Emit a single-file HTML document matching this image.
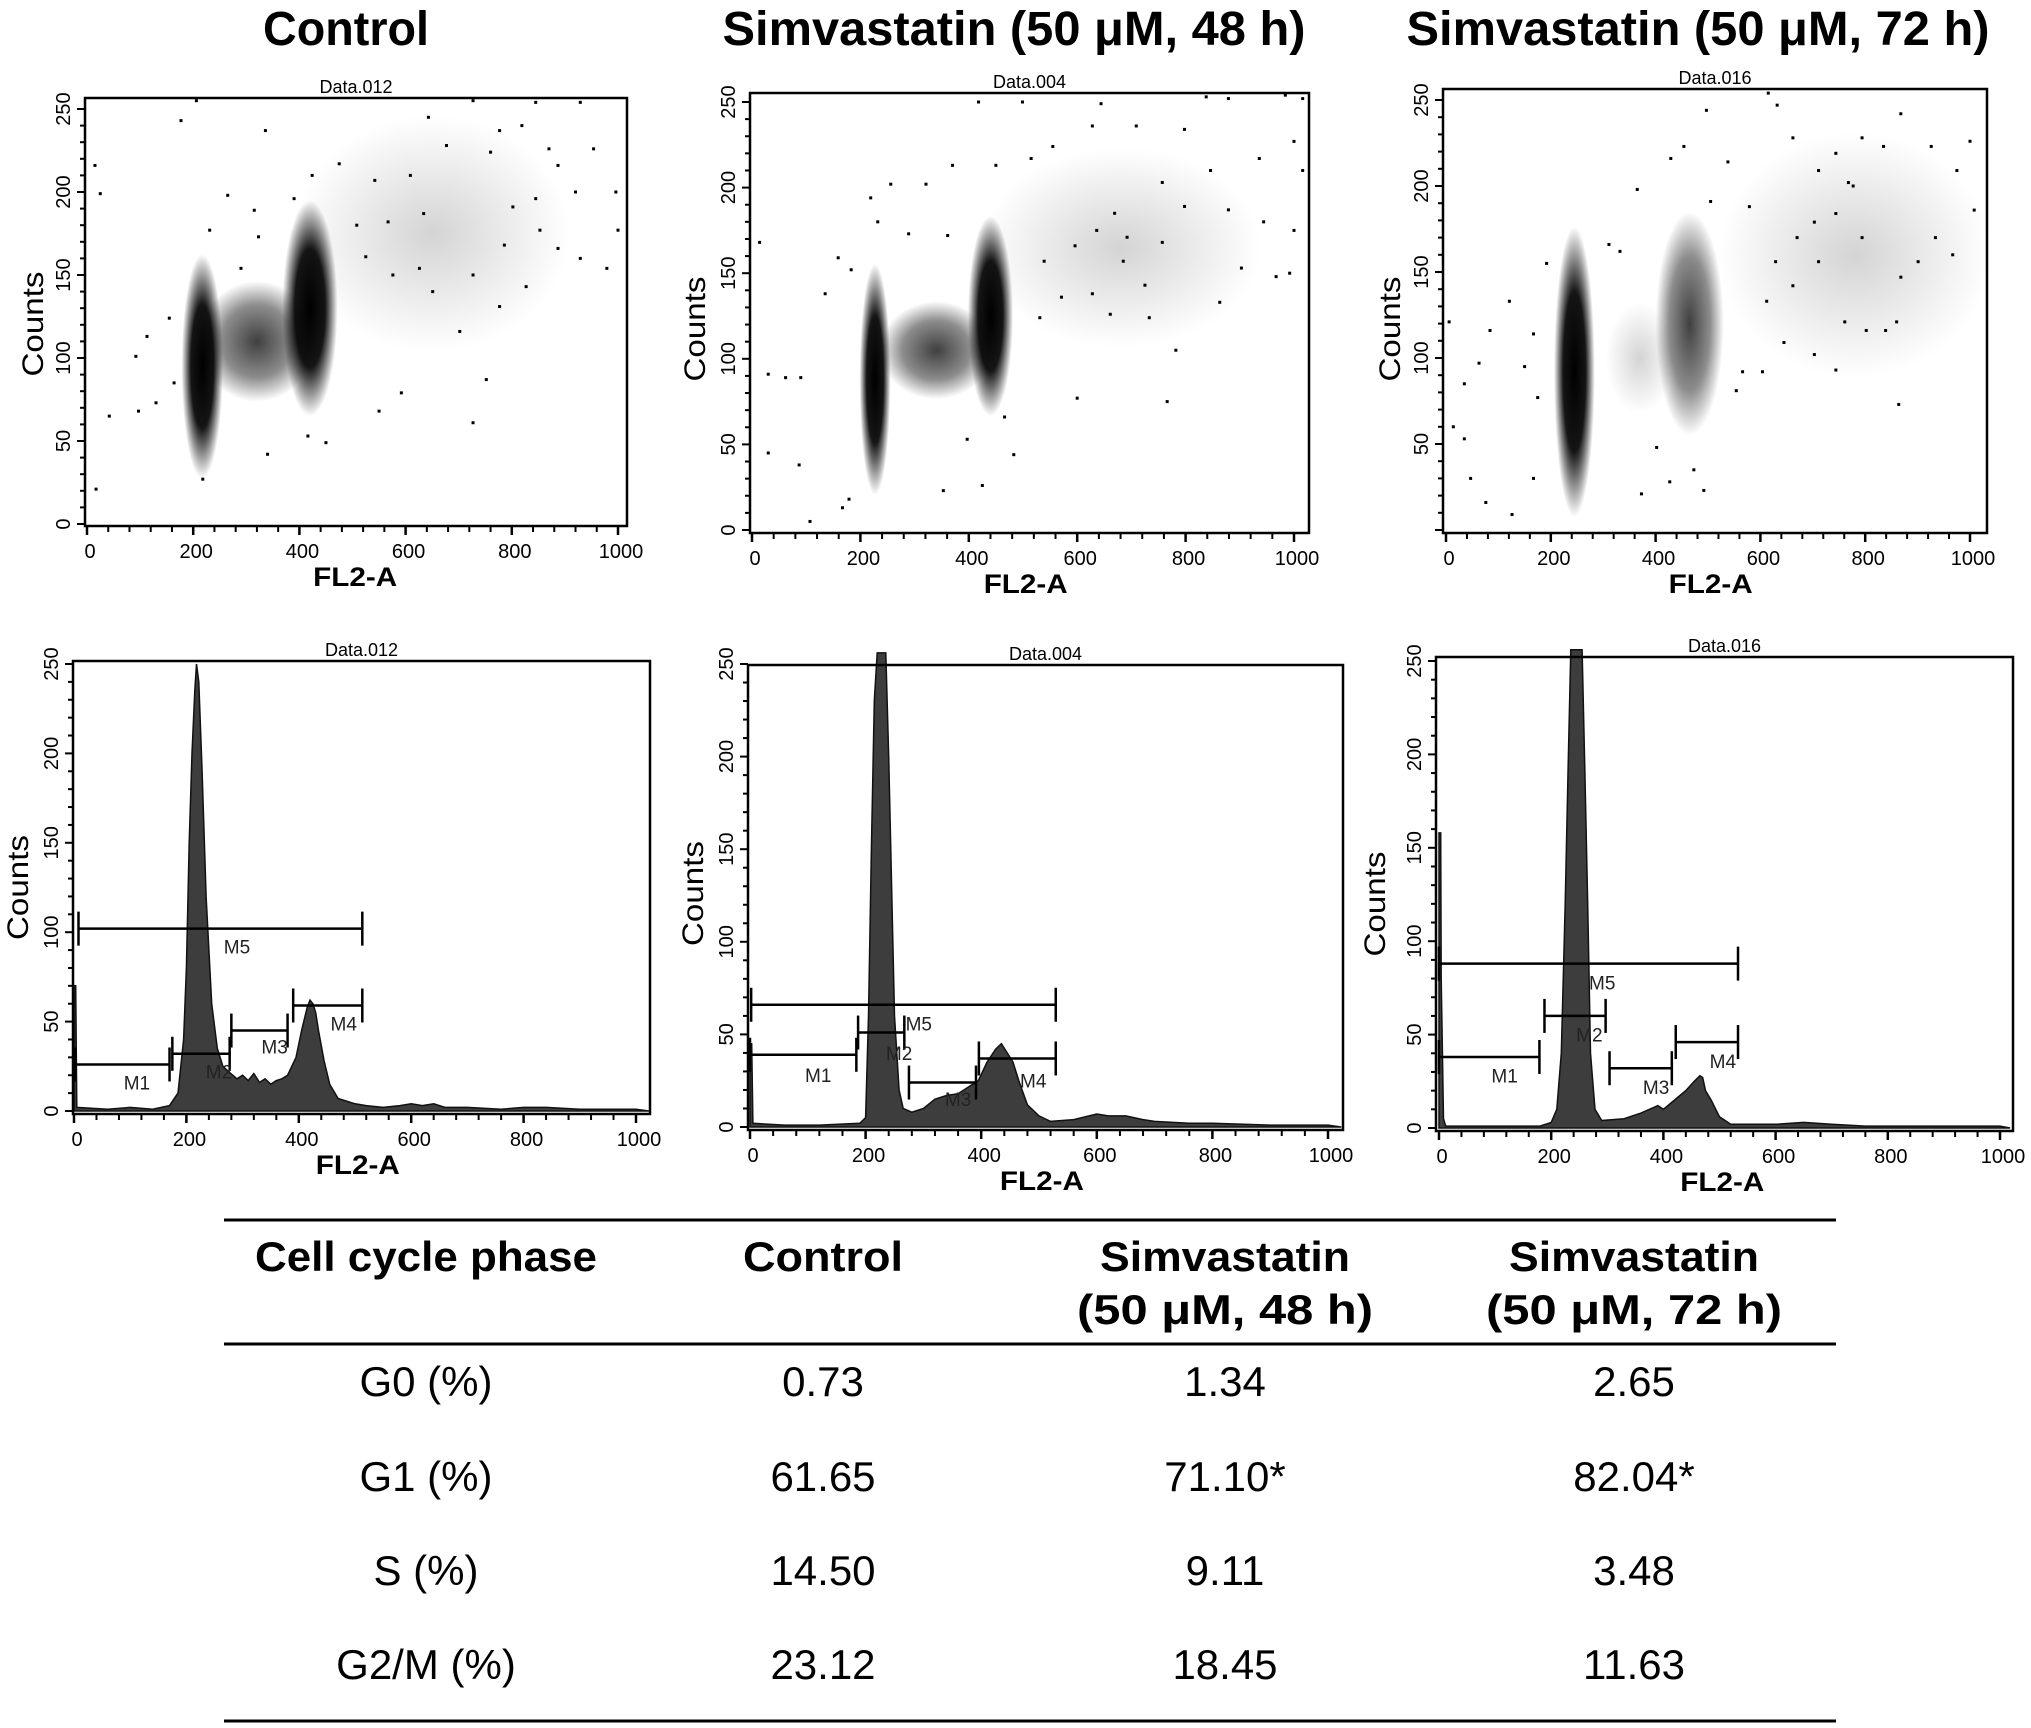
<!DOCTYPE html>
<html><head><meta charset="utf-8">
<style>
html,body{margin:0;padding:0;background:#fff;}
svg{display:block;font-family:"Liberation Sans",Arial,sans-serif;}
</style></head>
<body>
<svg id="fig" xmlns="http://www.w3.org/2000/svg" width="2031" height="1728" viewBox="0 0 2031 1728">
<defs>
<radialGradient id="gDense"><stop offset="0" stop-color="#000" stop-opacity="1"/><stop offset="0.55" stop-color="#000" stop-opacity="0.92"/><stop offset="1" stop-color="#000" stop-opacity="0"/></radialGradient>
<radialGradient id="gMedium"><stop offset="0" stop-color="#000" stop-opacity="0.75"/><stop offset="0.6" stop-color="#000" stop-opacity="0.45"/><stop offset="1" stop-color="#000" stop-opacity="0"/></radialGradient>
<radialGradient id="gLight"><stop offset="0" stop-color="#000" stop-opacity="0.17"/><stop offset="1" stop-color="#000" stop-opacity="0"/></radialGradient>
</defs>
<g font-weight="bold" font-size="48" text-anchor="middle">
<text x="346" y="45" textLength="166" lengthAdjust="spacingAndGlyphs">Control</text>
<text x="1014" y="45" textLength="583" lengthAdjust="spacingAndGlyphs">Simvastatin (50 μM, 48 h)</text>
<text x="1698" y="45" textLength="583" lengthAdjust="spacingAndGlyphs">Simvastatin (50 μM, 72 h)</text>
</g>
<g id="charts"></g>
<g>
<line x1="224" y1="1220" x2="1836" y2="1220" stroke="#000" stroke-width="3"/>
<line x1="224" y1="1344" x2="1836" y2="1344" stroke="#000" stroke-width="3"/>
<line x1="224" y1="1721" x2="1836" y2="1721" stroke="#000" stroke-width="3"/>
<g font-weight="bold" font-size="42" text-anchor="middle">
<text x="426" y="1271" textLength="342" lengthAdjust="spacingAndGlyphs">Cell cycle phase</text>
<text x="823" y="1271" textLength="160" lengthAdjust="spacingAndGlyphs">Control</text>
<text x="1225" y="1271" textLength="250" lengthAdjust="spacingAndGlyphs">Simvastatin</text>
<text x="1225" y="1324" textLength="296" lengthAdjust="spacingAndGlyphs">(50 μM, 48 h)</text>
<text x="1634" y="1271" textLength="250" lengthAdjust="spacingAndGlyphs">Simvastatin</text>
<text x="1634" y="1324" textLength="296" lengthAdjust="spacingAndGlyphs">(50 μM, 72 h)</text>
</g>
<g font-size="42" text-anchor="middle">
<text x="426" y="1396">G0 (%)</text>
<text x="823" y="1396">0.73</text>
<text x="1225" y="1396">1.34</text>
<text x="1634" y="1396">2.65</text>
<text x="426" y="1491">G1 (%)</text>
<text x="823" y="1491">61.65</text>
<text x="1225" y="1491">71.10*</text>
<text x="1634" y="1491">82.04*</text>
<text x="426" y="1585">S (%)</text>
<text x="823" y="1585">14.50</text>
<text x="1225" y="1585">9.11</text>
<text x="1634" y="1585">3.48</text>
<text x="426" y="1679">G2/M (%)</text>
<text x="823" y="1679">23.12</text>
<text x="1225" y="1679">18.45</text>
<text x="1634" y="1679">11.63</text>
</g>
</g>
</svg>
<script>
// ---------- data ----------
const xTickLabels = [0, 200, 400, 600, 800, 1000];
const yTickLabels = [0, 50, 100, 150, 200, 250];
const sampleNames = ["Data.012", "Data.004", "Data.016"];

// scatter clusters (data units): centre x, centre y, half-width, half-height, density
const s1ClusterX = [650, 320, 217, 420];
const s1ClusterY = [175, 110, 95, 130];
const s1ClusterRX = [200, 85, 30, 40];
const s1ClusterRY = [55, 28, 52, 50];
const s1ClusterD = ["light", "medium", "dense", "dense"];
const s2ClusterX = [680, 340, 227, 440];
const s2ClusterY = [165, 105, 88, 125];
const s2ClusterRX = [200, 80, 22, 32];
const s2ClusterRY = [45, 22, 52, 45];
const s2ClusterD = ["light", "medium", "dense", "dense"];
const s3ClusterX = [780, 370, 465, 245];
const s3ClusterY = [160, 100, 120, 92];
const s3ClusterRX = [200, 50, 50, 30];
const s3ClusterRY = [55, 25, 50, 65];
const s3ClusterD = ["light", "light", "medium", "dense"];

// sparse scatter events
const s1PointX = [15,25,177,206,336,97,42,17,218,340,416,450,550,592,727,752,777,651,702,827,853,929,979,1000,996,920,887,954,760,677,609,542,475,424,390,315,265,231,155,113,92,164,130,290,323,508,567,634,802,845,525,576,626,727,786,887,727,845,929,643,777,819,870];
const s1PointY = [216,199,243,255,237,68,65,21,27,42,53,49,68,79,61,87,131,140,116,143,177,160,154,177,200,200,216,226,224,228,210,207,217,210,196,189,198,177,124,113,101,85,73,154,173,180,182,187,191,196,161,150,154,150,168,166,255,254,254,245,237,240,226];
const s2PointX = [14,30,62,90,30,87,107,167,179,135,159,183,353,425,483,397,466,600,766,782,733,863,903,967,992,1000,944,879,798,757,846,936,1000,1016,1016,984,879,838,798,709,628,644,555,515,450,370,321,256,219,232,289,361,418,499,539,596,636,669,685,628,571,531,661,725,757,692];
const s2PointY = [168,91,89,89,45,38,5,13,18,138,159,152,23,26,44,53,66,77,75,105,124,133,153,148,150,175,180,187,189,203,210,217,227,210,252,254,252,253,234,236,236,249,224,217,213,213,202,202,194,180,173,172,250,250,157,166,175,185,157,138,136,124,126,143,168,171];
const s3PointX = [6,35,63,84,121,14,35,47,76,126,150,167,175,167,192,311,332,365,373,402,427,473,492,554,566,604,579,538,497,454,429,505,632,615,662,711,744,768,794,835,868,926,975,1000,1008,967,934,901,868,860,839,802,794,777,744,703,670,629,612,645,703,744,662,711,761,864];
const s3PointY = [121,85,97,116,133,60,53,30,16,9,95,114,77,30,155,166,162,198,21,48,28,35,23,81,92,92,188,214,244,223,216,191,247,254,228,209,219,202,228,223,242,223,209,226,186,160,170,156,147,121,116,116,170,200,184,179,170,156,133,109,102,93,142,156,121,73];

// histograms: channel / count vertices
const h1Chan = [0,0,3,5,60,100,140,170,185,195,200,205,210,215,218,222,228,235,245,255,265,275,290,300,310,320,330,340,350,360,370,380,395,405,415,420,425,430,435,445,455,470,500,520,550,580,600,620,640,660,700,760,800,840,900,950,1000,1023];
const h1Count = [0,70,70,2,1,2,1,3,10,40,80,150,200,235,250,240,190,120,60,35,25,22,18,20,17,21,16,18,15,17,18,20,30,45,58,62,60,55,45,28,15,7,4,3,2,3,4,3,4,2,2,1,2,2,1,1,1,0];
const h2Chan = [0,0,3,5,60,120,190,200,205,210,215,220,235,240,245,250,258,265,280,300,320,340,360,380,395,410,425,435,445,455,465,480,500,520,560,600,620,650,680,700,760,800,900,1000,1023];
const h2Count = [0,45,45,2,1,1,2,5,60,150,230,256,256,200,130,60,20,10,8,10,15,17,18,22,25,35,42,45,40,35,25,12,6,3,4,7,6,6,4,3,2,2,1,1,0];
const h3Chan = [0,0,3,4,8,12,60,120,180,200,210,218,225,230,235,255,260,265,270,278,290,330,360,390,400,420,440,455,465,470,475,485,500,520,560,600,650,700,760,800,880,1000,1018];
const h3Count = [0,158,158,80,5,1,1,1,1,3,10,40,120,190,256,256,190,120,40,10,4,5,8,12,10,15,20,25,28,27,20,15,6,2,2,2,3,2,1,1,1,1,0];

// marker gates: [start, end, level]
const h1GateStart = [2,175,280,390,8];
const h1GateEnd = [170,277,380,513,513];
const h1GateLevel = [26,32,45,59,102];
const h1LabelX = [112,258,357,480,290];
const h1LabelY = [16,22,36,49,92];
const h2GateStart = [0,187,275,396,2];
const h2GateEnd = [184,267,391,529,529];
const h2GateLevel = [39,51,24,37,66];
const h2LabelX = [118,258,360,490,292];
const h2LabelY = [28,40,15,25,56];
const h3GateStart = [0,188,304,422,0];
const h3GateEnd = [179,297,415,533,533];
const h3GateLevel = [38,60,32,46,88];
const h3LabelX = [117,268,387,506,291];
const h3LabelY = [28,50,22,36,78];
const gateNames = ["M1","M2","M3","M4","M5"];

// ---------- drawing ----------
const NS = "http://www.w3.org/2000/svg";
const root = document.getElementById("charts");
function mk(tag, attrs, parent) {
  const e = document.createElementNS(NS, tag);
  for (const k in attrs) e.setAttribute(k, attrs[k]);
  parent.appendChild(e);
  return e;
}
function makeAxes(g, L, idx) {
  const sx = v => L.x0 + (L.x1000 - L.x0) * v / 1000;
  const sy = v => L.y0 - (L.y0 - L.y250) * v / 250;
  const frame = mk("rect", {x: L.bl, y: L.bt, width: L.br - L.bl, height: L.bb - L.bt, fill: "none", stroke: "#000", "stroke-width": 2.5}, g);
  
  
  const t = mk("text", {x: (L.bl + L.br) / 2, y: L.bt - 5, "font-size": 18, "text-anchor": "middle"}, g);
  t.textContent = sampleNames[idx];
  
  
  for (let v = 0; v <= 1020; v += 40) {
    const major = v % 200 === 0;
    const tk = mk("line", {x1: sx(v), x2: sx(v), y1: L.bb, y2: L.bb + (major ? 9 : 6), stroke: "#000", "stroke-width": major ? 2.5 : 2}, g);
    
    
  }
  xTickLabels.forEach(v => {
    const tl = mk("text", {x: sx(v) + 3, y: L.bb + 32, "font-size": 20, "text-anchor": "middle"}, g);
    tl.textContent = v;
    
    
  });
  for (let v = 0; v <= 255; v += 10) {
    const major = v % 50 === 0;
    const tk = mk("line", {x1: L.bl - (major ? 8 : 5), x2: L.bl, y1: sy(v), y2: sy(v), stroke: "#000", "stroke-width": 2}, g);
    
    
  }
  yTickLabels.forEach(v => {
    if (L.skipZero && v === 0) return;
    const ly = sy(v);
    const tl = mk("text", {x: L.bl - 15, y: ly, "font-size": 20, "text-anchor": "middle", transform: `rotate(-90 ${L.bl - 15} ${ly})`}, g);
    tl.textContent = v;
    
    
  });
  const xt = mk("text", {x: sx(505), y: L.bb + 60, "font-size": 27, "font-weight": "bold", "text-anchor": "middle", textLength: 84, lengthAdjust: "spacingAndGlyphs"}, g);
  xt.textContent = "FL2-A";
  
  
  const cy = (L.bt + L.bb) / 2 + L.countsShift;
  const cx = L.bl - L.countsOff + 10;
  const yt = mk("text", {x: cx, y: cy, "font-size": 30, "text-anchor": "middle", transform: `rotate(-90 ${cx} ${cy})`, textLength: 105, lengthAdjust: "spacingAndGlyphs"}, g);
  yt.textContent = "Counts";
  
  
  return {sx, sy};
}
function scatterPanel(L, idx, cX, cY, cRX, cRY, cD, pX, pY) {
  const g = mk("g", {}, root);
  
  
  const sx = v => L.x0 + (L.x1000 - L.x0) * v / 1000;
  const sy = v => L.y0 - (L.y0 - L.y250) * v / 250;
  const grad = {dense: "url(#gDense)", medium: "url(#gMedium)", light: "url(#gLight)"};
  cX.forEach((x, i) => {
    const rx = sx(cRX[i]) - sx(0), ry = sy(0) - sy(cRY[i]);
    const e = mk("ellipse", {cx: sx(x), cy: sy(cY[i]), rx: rx * 1.3, ry: ry * 1.3, fill: grad[cD[i]]}, g);
    
    
  });
  pX.forEach((x, i) => {
    const d = mk("rect", {x: sx(x) - 1.5, y: sy(pY[i]) - 1.5, width: 3, height: 3, fill: "#000"}, g);
    
    
  });
  makeAxes(g, L, idx);
}
function histPanel(L, idx, chan, count, gS, gE, gL, lX, lY) {
  const g = mk("g", {}, root);
  
  
  const sx = v => L.x0 + (L.x1000 - L.x0) * v / 1000;
  const sy = v => L.y0 - (L.y0 - L.y250) * v / 250;
  let d = "";
  chan.forEach((c, i) => { d += (i ? "L" : "M") + sx(c).toFixed(1) + " " + sy(count[i]).toFixed(1); });
  d += "Z";
  const p = mk("path", {d: d, fill: "#3d3d3d", stroke: "#111", "stroke-width": 1.5}, g);
  
  
  gS.forEach((s, i) => {
    const gg = mk("g", {stroke: "#000", "stroke-width": 2.5}, g);
    
    
    const y = sy(gL[i]);
    mk("line", {x1: sx(s), x2: sx(gE[i]), y1: y, y2: y}, gg);
    mk("line", {x1: sx(s), x2: sx(s), y1: y - 17, y2: y + 17}, gg);
    mk("line", {x1: sx(gE[i]), x2: sx(gE[i]), y1: y - 17, y2: y + 17}, gg);
    const tl = mk("text", {x: sx(lX[i]), y: sy(lY[i]) + 7, "font-size": 19, "text-anchor": "middle", fill: "#222"}, g);
    tl.textContent = gateNames[i];
    
    
  });
  makeAxes(g, L, idx);
}
scatterPanel({x0:87,x1000:618,y0:524,y250:109,bl:85,br:627,bt:98,bb:526,countsOff:52,countsShift:12}, 0, s1ClusterX, s1ClusterY, s1ClusterRX, s1ClusterRY, s1ClusterD, s1PointX, s1PointY);
scatterPanel({x0:752,x1000:1294,y0:530,y250:102,bl:750,br:1309,bt:93,bb:533,countsOff:55,countsShift:16}, 1, s2ClusterX, s2ClusterY, s2ClusterRX, s2ClusterRY, s2ClusterD, s2PointX, s2PointY);
scatterPanel({x0:1446,x1000:1970,y0:530,y250:100,bl:1443,br:1987,bt:89,bb:533,countsOff:53,countsShift:18,skipZero:true}, 2, s3ClusterX, s3ClusterY, s3ClusterRX, s3ClusterRY, s3ClusterD, s3PointX, s3PointY);
histPanel({x0:74,x1000:636,y0:1111,y250:664,bl:73,br:650,bt:661,bb:1114,countsOff:55,countsShift:0}, 0, h1Chan, h1Count, h1GateStart, h1GateEnd, h1GateLevel, h1LabelX, h1LabelY);
histPanel({x0:750,x1000:1328,y0:1127,y250:664,bl:748,br:1343,bt:665,bb:1130,countsOff:55,countsShift:-4}, 1, h2Chan, h2Count, h2GateStart, h2GateEnd, h2GateLevel, h2LabelX, h2LabelY);
histPanel({x0:1439,x1000:2000,y0:1128,y250:661,bl:1436,br:2013,bt:657,bb:1131,countsOff:61,countsShift:10}, 2, h3Chan, h3Count, h3GateStart, h3GateEnd, h3GateLevel, h3LabelX, h3LabelY);
</script>
</body></html>
